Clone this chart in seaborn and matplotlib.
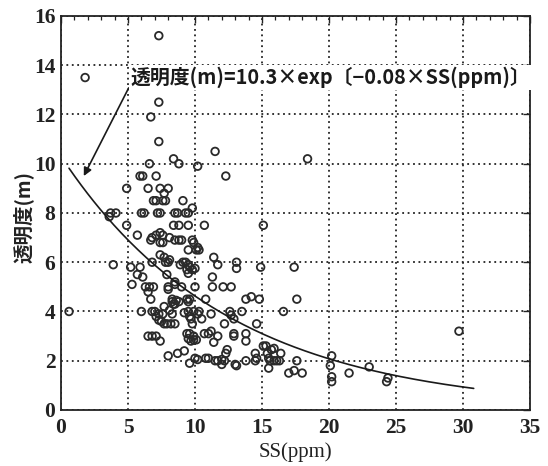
import numpy as np
import pandas as pd
import seaborn as sns
import matplotlib
matplotlib.use("Agg")
import matplotlib.pyplot as plt
from matplotlib.ticker import MultipleLocator

# ---- data ----
ss = [0.6, 1.8, 7.3, 7.3, 6.7, 7.3, 11.5, 18.4, 8.4, 8.8, 6.6, 10.2, 12.3,
      5.9, 6.1, 7.1, 4.9, 6.5, 7.4, 8.0, 7.7, 6.9, 7.1, 7.6, 7.8, 9.1, 9.8,
      3.7, 4.1, 3.6, 6.0, 6.2, 7.2, 7.4, 8.5, 8.7, 9.3, 9.5, 4.9, 8.4, 8.8,
      9.5, 10.7, 15.1, 5.7, 6.8, 7.1, 7.4, 7.6, 8.1, 8.5, 8.8, 9.0, 6.7, 7.4,
      7.6, 9.8, 9.9, 10.1, 10.2, 10.3, 9.5, 7.4, 7.7, 8.1, 7.8, 8.0, 11.4,
      11.7, 13.1, 13.1, 6.8, 8.9, 9.1, 9.3, 9.5, 9.6, 9.4, 9.5, 9.8, 10.0,
      3.9, 5.2, 5.9, 6.1, 5.7, 7.9, 14.9, 17.4, 5.3, 6.3, 6.6, 6.9, 6.5, 6.7,
      8.0, 8.0, 8.5, 8.5, 9.0, 10.0, 11.3, 11.3, 12.1, 12.7, 8.3, 8.6, 8.4,
      8.8, 8.3, 8.5, 9.4, 9.5, 9.6, 10.8, 13.8, 14.2, 14.8, 17.6, 6.8, 7.0,
      7.3, 7.6, 6.0, 7.7, 8.1, 8.3, 9.2, 9.5, 9.6, 9.9, 10.2, 10.3, 11.2,
      12.6, 12.7, 13.5, 16.6, 7.1, 7.3, 7.5, 7.7, 7.9, 8.2, 8.5, 9.7, 9.8,
      10.5, 12.2, 12.9, 14.6, 6.5, 6.8, 7.1, 7.4, 9.4, 9.6, 9.9, 9.5, 9.7,
      9.9, 10.1, 10.7, 11.0, 11.2, 11.7, 11.4, 12.9, 12.9, 13.8, 13.8, 8.0,
      8.7, 9.2, 9.6, 10.0, 10.2, 10.8, 11.0, 11.5, 11.7, 12.0, 12.2, 12.4,
      12.3, 12.0, 13.1, 13.0, 13.8, 14.5, 14.6, 14.5, 15.1, 15.3, 15.4, 15.7,
      15.9, 15.5, 15.6, 15.9, 16.1, 16.4, 16.3, 15.5, 17.0, 17.4, 18.0, 17.6,
      20.2, 20.1, 20.2, 20.2, 21.5, 23.0, 24.3, 24.4, 29.7]
secchi = [4.0, 13.5, 15.2, 12.5, 11.9, 10.9, 10.5, 10.2, 10.2, 10.0, 10.0,
          9.9, 9.5, 9.5, 9.5, 9.5, 9.0, 9.0, 9.0, 9.0, 8.8, 8.5, 8.5, 8.5, 8.5,
          8.5, 8.2, 8.0, 8.0, 7.85, 8.0, 8.0, 8.0, 8.0, 8.0, 8.0, 8.0, 8.0,
          7.5, 7.5, 7.5, 7.5, 7.5, 7.5, 7.1, 7.0, 7.1, 7.2, 7.1, 7.0, 6.9,
          6.9, 6.9, 6.9, 6.8, 6.8, 6.9, 6.8, 6.5, 6.6, 6.5, 6.5, 6.3, 6.2, 6.1,
          6.0, 6.0, 6.2, 5.9, 6.0, 5.75, 6.0, 5.9, 6.0, 6.0, 5.9, 5.8, 5.7,
          5.55, 5.7, 5.75, 5.9, 5.8, 5.8, 5.4, 5.5, 5.5, 5.8, 5.8, 5.1, 5.0,
          5.0, 5.0, 4.8, 4.5, 5.0, 4.9, 5.2, 5.1, 5.0, 5.0, 5.4, 5.0, 5.0, 5.0,
          4.5, 4.45, 4.3, 4.4, 4.4, 4.3, 4.5, 4.4, 4.5, 4.5, 4.5, 4.6, 4.5,
          4.5, 4.0, 4.0, 3.9, 3.9, 4.0, 4.2, 4.05, 3.9, 3.95, 4.0, 3.8, 4.0,
          3.9, 4.0, 3.9, 4.0, 3.85, 4.0, 4.0, 3.8, 3.65, 3.6, 3.5, 3.5, 3.5,
          3.5, 3.7, 3.5, 3.7, 3.5, 3.7, 3.5, 3.0, 3.0, 3.0, 2.8, 3.1, 3.1, 3.0,
          2.9, 2.8, 2.85, 2.85, 3.1, 3.1, 3.2, 3.0, 2.75, 3.0, 3.1, 3.1, 2.8,
          2.2, 2.3, 2.4, 1.9, 2.1, 2.05, 2.1, 2.1, 2.0, 2.0, 2.05, 2.0, 2.45,
          2.3, 1.85, 1.8, 1.85, 2.0, 2.3, 2.1, 2.0, 2.6, 2.6, 2.3, 2.45, 2.5,
          2.1, 2.0, 2.0, 2.0, 2.3, 2.0, 1.7, 1.5, 1.6, 1.5, 2.0, 2.2, 1.8,
          1.35, 1.15, 1.5, 1.75, 1.15, 1.3, 3.2]

fit_a = 10.3
fit_b = -0.08
fit_range = [0.6, 30.8]

x_ticks = [0, 5, 10, 15, 20, 25, 30, 35]
y_ticks = [0, 2, 4, 6, 8, 10, 12, 14, 16]

n = min(len(ss), len(secchi))
df = pd.DataFrame({"SS": ss[:n], "T": secchi[:n]})
xf = np.linspace(fit_range[0], fit_range[1], 200)
fit_df = pd.DataFrame({"SS": xf, "T": fit_a * np.exp(fit_b * xf)})

sns.set_theme(style="white")
plt.rcParams["font.family"] = ["Liberation Serif", "Noto Sans CJK JP", "DejaVu Sans"]

fig = plt.figure(figsize=(5.48, 4.66), dpi=100)
ax = fig.add_axes([0.1113, 0.1202, 0.8558, 0.8455])

sns.scatterplot(data=df, x="SS", y="T", ax=ax, marker="o", s=30,
                facecolor="none", edgecolor="#2a2a2a", linewidth=1.3, zorder=3)
sns.lineplot(data=fit_df, x="SS", y="T", ax=ax, color="#1a1a1a", lw=1.2, zorder=4)

ax.set_xlim(0, 35)
ax.set_ylim(0, 16)
ax.set_xticks(x_ticks)
ax.set_yticks(y_ticks)
ax.xaxis.set_minor_locator(MultipleLocator(1))
ax.tick_params(axis="both", which="both", direction="in", top=True, right=True)
ax.tick_params(axis="both", which="major", length=5, width=1.0, color="#222",
               labelsize=15.5)
ax.tick_params(axis="x", which="major", pad=6)
ax.tick_params(axis="y", which="major", pad=4)
ax.tick_params(axis="x", which="minor", length=3, width=0.9, color="#222")
ax.tick_params(axis="y", which="minor", length=0)
for lab in ax.get_xticklabels() + ax.get_yticklabels():
    lab.set_fontweight("bold")
    lab.set_color("#222")
ax.grid(True, which="major", linestyle=(0, (1, 2)), color="#222", lw=1.3)
for sp in ax.spines.values():
    sp.set_color("#222")
    sp.set_linewidth(1.3)

ax.set_xlabel("SS(ppm)", fontsize=15, color="#222", labelpad=3)
ax.set_ylabel("透明度(m)", fontsize=14, fontweight="bold", color="#222",
              family=["Noto Sans CJK JP"])
ax.yaxis.set_label_coords(-0.058, 0.49)

ax.annotate("透明度(m)=10.3×exp〔−0.08×SS(ppm)〕", xy=(1.7, 9.5), xytext=(5.2, 13.5),
            fontsize=14.3, fontweight="bold", color="#1a1a1a",
            family=["Noto Sans CJK JP", "DejaVu Sans"], va="center", ha="left",
            bbox=dict(boxstyle="square,pad=0.1", fc="white", ec="none"),
            arrowprops=dict(arrowstyle="-|>", color="#1a1a1a", lw=1.2,
                            shrinkA=0, shrinkB=0, mutation_scale=12,
                            relpos=(0.0, 0.2)),
            zorder=5)

fig.savefig("out.png", dpi=100, facecolor="white")
